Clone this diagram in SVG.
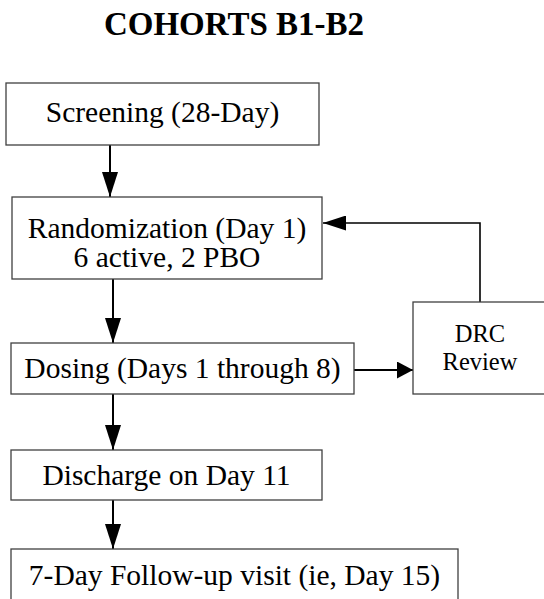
<svg xmlns="http://www.w3.org/2000/svg" width="544" height="599" viewBox="0 0 544 599" font-family="Liberation Serif, serif">
  <style>
    .box { fill: #ffffff; stroke: #404040; stroke-width: 1.3; }
    .lbl { font-size: 29.5px; fill: #000000; text-anchor: middle; }
    .small { font-size: 24.5px; }
    .title { font-size: 33px; font-weight: bold; fill: #000000; text-anchor: middle; }
    .conn { fill: none; stroke: #000000; stroke-width: 2; }
    .thin { stroke-width: 1.6; }
  </style>
  <defs>
    <marker id="head-v" markerUnits="userSpaceOnUse" markerWidth="25" markerHeight="16" refX="25" refY="8" orient="auto">
      <path d="M0,0 L25,8 L0,16 Z" fill="#000000"/>
    </marker>
    <marker id="head-r" markerUnits="userSpaceOnUse" markerWidth="16" markerHeight="17" refX="16" refY="8.5" orient="auto">
      <path d="M0,0 L16,8.5 L0,17 Z" fill="#000000"/>
    </marker>
    <marker id="head-l" markerUnits="userSpaceOnUse" markerWidth="23" markerHeight="15" refX="23" refY="7.5" orient="auto">
      <path d="M0,0 L23,7.5 L0,15 Z" fill="#000000"/>
    </marker>
  </defs>

  <rect x="0" y="0" width="544" height="599" fill="#ffffff"/>

  <text class="title" x="234" y="35">COHORTS B1-B2</text>

  <!-- connectors -->
  <g id="connectors">
    <line class="conn" x1="110" y1="145" x2="110" y2="197" marker-end="url(#head-v)"/>
    <line class="conn" x1="113" y1="279" x2="113" y2="343" marker-end="url(#head-v)"/>
    <line class="conn" x1="113" y1="394" x2="113" y2="450" marker-end="url(#head-v)"/>
    <line class="conn" x1="113" y1="500" x2="113" y2="549" marker-end="url(#head-v)"/>
    <line class="conn" x1="354" y1="370" x2="413" y2="370" marker-end="url(#head-r)"/>
    <polyline class="conn thin" points="480,302 480,223 323,223" marker-end="url(#head-l)"/>
  </g>

  <g id="screening">
    <rect class="box" x="6" y="83" width="313" height="62"/>
    <text class="lbl" x="162.5" y="122">Screening (28-Day)</text>
  </g>

  <g id="randomization">
    <rect class="box" x="12" y="197" width="310" height="82"/>
    <text class="lbl" x="167" y="238">Randomization (Day 1)</text>
    <text class="lbl" x="167" y="267">6 active, 2 PBO</text>
  </g>

  <g id="dosing">
    <rect class="box" x="11" y="343" width="343" height="51"/>
    <text class="lbl" x="182.5" y="378">Dosing (Days 1 through 8)</text>
  </g>

  <g id="drc-review">
    <rect class="box" x="413" y="302" width="140" height="92"/>
    <text class="lbl small" x="480" y="342">DRC</text>
    <text class="lbl small" x="480" y="370">Review</text>
  </g>

  <g id="discharge">
    <rect class="box" x="11" y="450" width="311" height="50"/>
    <text class="lbl" x="166.5" y="485">Discharge on Day 11</text>
  </g>

  <g id="follow-up">
    <rect class="box" x="11" y="549" width="447" height="60"/>
    <text class="lbl" x="234.5" y="585">7-Day Follow-up visit (ie, Day 15)</text>
  </g>
</svg>
